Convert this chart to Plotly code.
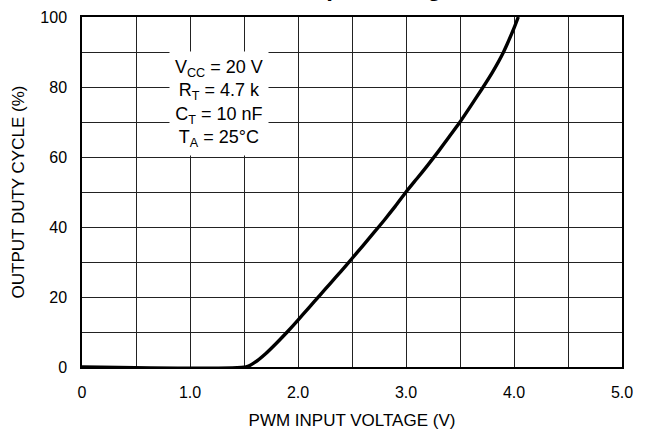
import plotly.graph_objects as go

# PWM input voltage (V) vs output duty cycle (%)
voltage = [0, 1.52, 1.6, 1.7, 1.8, 1.9, 2.0, 2.1, 2.2, 2.3, 2.4, 2.5, 2.6, 2.7,
           2.8, 2.9, 3.0, 3.1, 3.2, 3.3, 3.4, 3.5, 3.6, 3.7, 3.8, 3.9, 4.0, 4.04]
duty = [0, 0, 1.3, 3.8, 6.8, 10.0, 13.4, 16.9, 20.4, 23.9, 27.4, 31.0, 34.6, 38.3,
        42.0, 45.9, 50.0, 53.8, 57.6, 61.6, 65.8, 70.0, 74.6, 79.3, 84.2, 89.8, 96.8, 100]

x_ticks = [0, 1, 2, 3, 4, 5]
x_labels = ["0", "1.0", "2.0", "3.0", "4.0", "5.0"]
y_ticks = [0, 20, 40, 60, 80, 100]

conditions = "V<sub>CC</sub> = 20 V<br>R<sub>T</sub> = 4.7 k<br>C<sub>T</sub> = 10 nF<br>T<sub>A</sub> = 25°C"

FONT = "Liberation Sans, Arial, sans-serif"
GRID = "#222222"

fig = go.Figure()
fig.add_trace(go.Scatter(x=voltage, y=duty, mode="lines",
                         line=dict(color="black", width=3.4, shape="spline", smoothing=0.5),
                         showlegend=False, hoverinfo="skip"))

fig.update_layout(
    width=650, height=432,
    margin=dict(l=82, r=28, t=17, b=65),
    paper_bgcolor="white", plot_bgcolor="white",
    font=dict(family=FONT, size=16, color="black"),
)

fig.update_xaxes(
    range=[0, 5], tickvals=x_ticks, ticktext=x_labels, automargin=False,
    showgrid=True, gridcolor=GRID, gridwidth=1.2,
    minor=dict(dtick=0.5, showgrid=True, gridcolor=GRID, gridwidth=1.2),
    showline=True, linecolor="black", linewidth=2, mirror=True,
    ticks="", ticklabelstandoff=10, zeroline=False,
    title=dict(text="PWM INPUT VOLTAGE (V)", standoff=14, font=dict(size=17)),
)
fig.update_yaxes(
    range=[0, 100], tickvals=y_ticks, automargin=False,
    showgrid=True, gridcolor=GRID, gridwidth=1.2,
    minor=dict(dtick=10, showgrid=True, gridcolor=GRID, gridwidth=1.2),
    showline=True, linecolor="black", linewidth=1.5, mirror=True,
    ticks="", ticklabelstandoff=10, zeroline=False,
    title=dict(text="OUTPUT DUTY CYCLE (%)", standoff=11, font=dict(size=17)),
)

fig.add_annotation(x=1.265, y=75.2, xref="x", yref="y", text=conditions,
                   showarrow=False, align="center", bgcolor="white",
                   borderpad=5, font=dict(size=18))

# title sits above the page edge: only its descenders show, as in the source scan
fig.add_annotation(x=0.552, y=1.0, xref="paper", yref="paper", yanchor="bottom",
                   yshift=14, text="<b>Input Voltage</b>",
                   showarrow=False, font=dict(size=24))

# page body has an 8px default margin; drop it so the 650x432 figure fills the window
fig.write_html("out.html", config={"displayModeBar": False},
               post_script="document.body.style.margin='0';")
